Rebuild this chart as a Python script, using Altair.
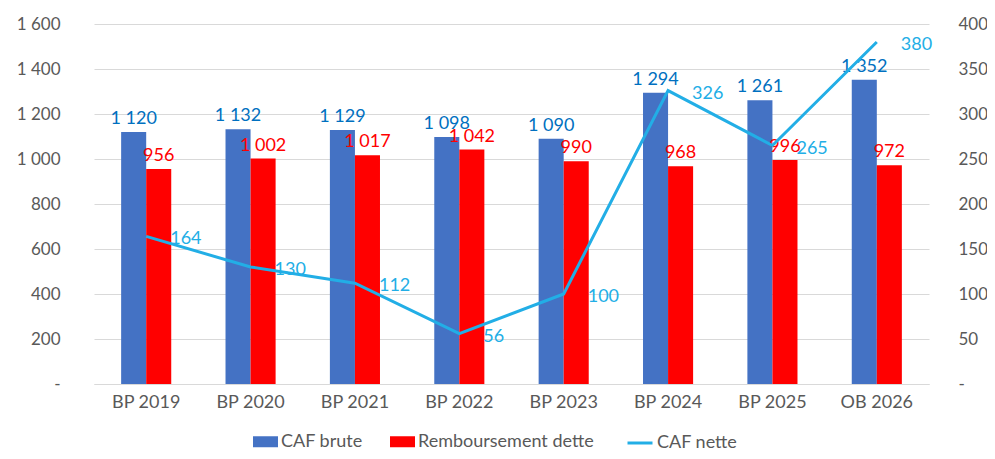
import altair as alt
import pandas as pd

categories = ["BP 2019", "BP 2020", "BP 2021", "BP 2022", "BP 2023", "BP 2024", "BP 2025", "OB 2026"]
caf_brute = [1120, 1132, 1129, 1098, 1090, 1294, 1261, 1352]
remboursement = [956, 1002, 1017, 1042, 990, 968, 996, 972]
caf_nette = [164, 130, 112, 56, 100, 326, 265, 380]
bar_series = ["CAF brute", "Remboursement dette"]
line_series = ["CAF nette"]

BLUE, RED, LINE = "#4472C4", "#FF0000", "#22AEE6"
FONT = "Lato"
GREY = "#595959"

bars_df = pd.DataFrame({
    "cat": categories * 2,
    "series": [bar_series[0]] * len(categories) + [bar_series[1]] * len(categories),
    "value": caf_brute + remboursement,
})
bars_df["label"] = bars_df["value"].map(lambda v: f"{v:,}".replace(",", " "))
line_df = pd.DataFrame({"cat": categories, "series": line_series[0], "value": caf_nette})

x_enc = alt.X("cat:N", sort=categories,
              scale=alt.Scale(paddingInner=0.52, paddingOuter=0.26),
              axis=alt.Axis(title=None, labelAngle=0, ticks=False, domain=True,
                            domainColor="#D9D9D9", labelPadding=18, labelFontSize=18,
                            labelColor=GREY, labelFont=FONT, labelBaseline="middle"))
xoff = alt.XOffset("series:N", scale=alt.Scale(domain=bar_series, paddingInner=0, paddingOuter=0))

y_left = alt.Y("value:Q", scale=alt.Scale(domain=[0, 1600], nice=False, zero=True),
               axis=alt.Axis(title=None, values=list(range(0, 1601, 200)), ticks=False, domain=False,
                             grid=True, gridColor="#D9D9D9", labelPadding=34, labelFontSize=17,
                             labelColor=GREY, labelFont=FONT,
                             labelExpr="datum.value == 0 ? '-' : replace(format(datum.value, ','), ',', ' ')"))

bars = alt.Chart(bars_df).mark_bar().encode(
    x=x_enc, xOffset=xoff, y=y_left,
    color=alt.Color("series:N", scale=alt.Scale(domain=bar_series, range=[BLUE, RED]),
                    legend=alt.Legend(title=None, orient="none", legendX=159, legendY=405,
                                      direction="horizontal", columnPadding=27, labelLimit=400,
                                      symbolType="M-1,-0.44H1V0.44H-1Z", symbolSize=625,
                                      symbolStrokeWidth=0, labelOffset=3, labelFontSize=18,
                                      labelColor=GREY, labelFont=FONT)),
)
bar_text = alt.Chart(bars_df).mark_text(baseline="alphabetic", dy=-8, fontSize=18, font=FONT).encode(
    x=alt.X("cat:N", sort=categories), xOffset=xoff, y=alt.Y("value:Q"),
    text="label:N",
    color=alt.condition("datum.series == 'CAF brute'", alt.value("#0070C0"), alt.value(RED)),
)
bar_layer = alt.layer(bars, bar_text)

y_right = alt.Y("value:Q", scale=alt.Scale(domain=[0, 400], nice=False, zero=True),
                axis=alt.Axis(title=None, orient="right", values=list(range(0, 401, 50)), ticks=False,
                              domain=False, grid=False, labelPadding=29, labelFontSize=17,
                              labelColor=GREY, labelFont=FONT,
                              labelExpr="datum.value == 0 ? '-' : format(datum.value, 'd')"))

line = alt.Chart(line_df).mark_line(strokeWidth=3).encode(
    x=alt.X("cat:N", sort=categories), y=y_right,
    stroke=alt.Stroke("series:N", scale=alt.Scale(domain=line_series, range=[LINE]),
                      legend=alt.Legend(title=None, orient="none", legendX=532, legendY=405,
                                        direction="horizontal", symbolType="stroke", symbolSize=625,
                                        symbolStrokeWidth=3, labelOffset=3, labelFontSize=18,
                                        labelLimit=400, labelColor=GREY, labelFont=FONT)),
)
line_text = alt.Chart(line_df).mark_text(align="left", baseline="middle", dx=24, dy=3,
                                         fontSize=18, font=FONT, color=LINE).encode(
    x=alt.X("cat:N", sort=categories), y=alt.Y("value:Q"), text="value:Q",
)
line_layer = alt.layer(line, line_text)

chart = alt.layer(bar_layer, line_layer).resolve_scale(y="independent").properties(
    width=835, height=360,
    autosize=alt.AutoSizeParams(type="none"),
    padding={"left": 86, "top": 16, "right": 58, "bottom": 67},
).configure_view(stroke=None)

chart.save("out.html", embed_options={"renderer": "svg", "actions": False})
